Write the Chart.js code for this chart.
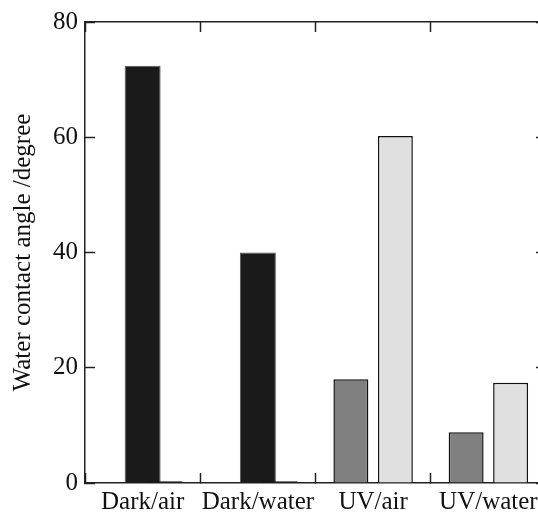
<!DOCTYPE html>
<html>
<head>
<meta charset="utf-8">
<script src="https://cdn.jsdelivr.net/npm/chart.js@4/dist/chart.umd.min.js"></script>
<style>
  html, body { margin: 0; padding: 0; background: #fff; overflow: hidden; }
  #wrap { width: 548px; height: 516px; }
</style>
</head>
<body>
<div id="wrap"><canvas id="angleChart" width="548" height="516"></canvas></div>
<script>
// values
const categories = ['Dark/air', 'Dark/water', 'UV/air', 'UV/water'];
const darkBars = [72.4, 40, null, null];
const firstBars = [null, null, 18, 8.8];
const secondBars = [0.3, 0.3, 60.2, 17.4];
const yTicks = [0, 20, 40, 60, 80];

const axisColor = '#222';
Chart.defaults.font.family = "'Liberation Serif', 'DejaVu Serif', serif";
Chart.defaults.color = '#111';

const inwardGrid = {
  drawOnChartArea: false,
  tickLength: -10,
  tickWidth: 1.5,
  tickColor: axisColor
};

// force the box sizes so the plot area lands where the reference has it
function fix(size) {
  return function (scale) {
    if (scale.isHorizontal()) scale.height = size; else scale.width = size;
    scale.paddingTop = 0;
    scale.paddingBottom = 0;
    scale.paddingLeft = 0;
    scale.paddingRight = 0;
  };
}

new Chart(document.getElementById('angleChart'), {
  type: 'bar',
  data: {
    labels: categories,
    datasets: [
      {
        data: firstBars,
        backgroundColor: '#808080',
        borderColor: '#111',
        borderWidth: 1.5,
        categoryPercentage: 0.772,
        barPercentage: 0.786
      },
      {
        data: secondBars,
        backgroundColor: ['#1a1a1a', '#1a1a1a', '#e0e0e0', '#e0e0e0'],
        borderColor: '#111',
        borderWidth: 1.5,
        categoryPercentage: 0.772,
        barPercentage: 0.786
      },
      {
        data: darkBars,
        grouped: false,
        backgroundColor: '#1a1a1a',
        borderColor: '#555',
        borderWidth: 1,
        barPercentage: 0.9,
        maxBarThickness: 36
      }
    ]
  },
  options: {
    responsive: false,
    animation: false,
    layout: { padding: 0 },
    plugins: {
      legend: { display: false },
      tooltip: { enabled: false }
    },
    scales: {
      x: {
        position: 'bottom',
        offset: true,
        grid: Object.assign({ offset: true }, inwardGrid),
        border: { color: axisColor, width: 1.5 },
        ticks: {
          font: { size: 25 },
          padding: 14,
          color: '#111',
          maxRotation: 0,
          minRotation: 0,
          autoSkip: false
        },
        afterFit: fix(33)
      },
      xTop: {
        type: 'category',
        position: 'top',
        labels: categories,
        offset: true,
        grid: Object.assign({ offset: true }, inwardGrid),
        border: { color: axisColor, width: 1.5 },
        ticks: { display: false },
        afterFit: fix(22)
      },
      y: {
        position: 'left',
        min: 0,
        max: 80,
        afterBuildTicks: function (scale) {
          scale.ticks = yTicks.map(v => ({ value: v }));
        },
        grid: inwardGrid,
        border: { color: axisColor, width: 1.5 },
        ticks: { font: { size: 25 }, padding: 17, color: '#111' },
        title: {
          display: true,
          text: 'Water contact angle /degree',
          font: { size: 25 },
          color: '#111',
          padding: { top: 8, bottom: 0 }
        },
        afterFit: fix(85)
      },
      yRight: {
        position: 'right',
        min: 0,
        max: 80,
        afterBuildTicks: function (scale) {
          scale.ticks = yTicks.map(v => ({ value: v }));
        },
        grid: inwardGrid,
        border: { color: axisColor, width: 1.5 },
        ticks: { display: false },
        afterFit: fix(2)
      }
    }
  }
});
</script>
</body>
</html>
